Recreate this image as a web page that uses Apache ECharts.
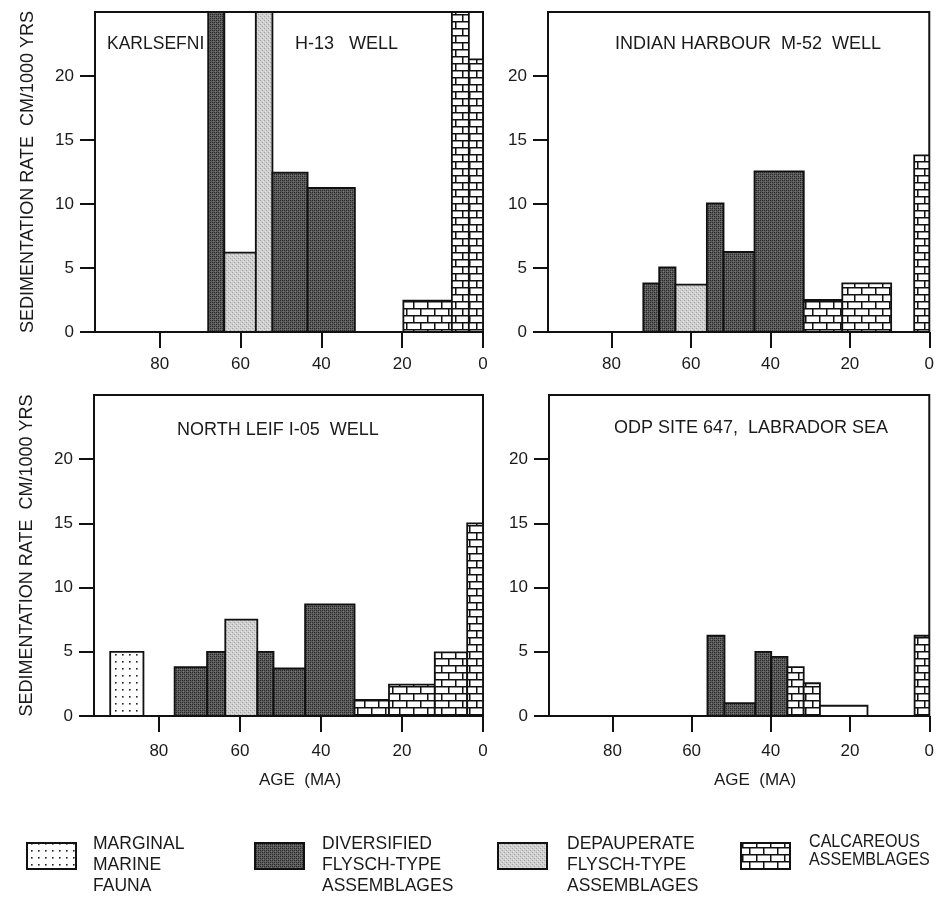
<!DOCTYPE html>
<html>
<head>
<meta charset="utf-8">
<script src="https://cdn.jsdelivr.net/npm/echarts@6/dist/echarts.min.js"></script>
<style>
html,body{margin:0;padding:0;background:#fff;}
#chart{width:937px;height:899px;}
</style>
</head>
<body>
<div id="chart"></div>
<script>
// ---------- DATA ----------
// each row: [older age (Ma), younger age (Ma), sedimentation rate (cm/1000 yr), assemblage type]
// types: 'marginal', 'diversified', 'depauperate', 'calcareous', 'none'
const ageTicks = [0, 20, 40, 60, 80];
const rateTicks = [0, 5, 10, 15, 20];

const karlsefniH13 = [
  [68, 64, 30, 'diversified'],
  [64, 56.2, 30, 'none'],
  [64, 56.2, 6.2, 'depauperate'],
  [56.2, 52.1, 30, 'depauperate'],
  [52.1, 43.4, 12.45, 'diversified'],
  [43.4, 31.7, 11.25, 'diversified'],
  [19.7, 7.7, 2.45, 'calcareous'],
  [7.7, 3.5, 30, 'calcareous'],
  [3.5, 0, 21.3, 'calcareous']
];

const indianHarbourM52 = [
  [72, 68, 3.8, 'diversified'],
  [68, 63.9, 5.05, 'diversified'],
  [63.9, 56, 3.7, 'depauperate'],
  [56, 51.8, 10.05, 'diversified'],
  [51.8, 44, 6.25, 'diversified'],
  [44, 31.6, 12.55, 'diversified'],
  [31.6, 21.9, 2.5, 'calcareous'],
  [21.9, 9.6, 3.8, 'calcareous'],
  [3.8, 0, 13.8, 'calcareous']
];

const northLeifI05 = [
  [92, 83.8, 5.0, 'marginal'],
  [76.1, 68.1, 3.8, 'diversified'],
  [68.1, 63.6, 5.0, 'diversified'],
  [63.6, 55.7, 7.5, 'depauperate'],
  [55.7, 51.7, 5.0, 'diversified'],
  [51.7, 43.9, 3.7, 'diversified'],
  [43.9, 31.7, 8.7, 'diversified'],
  [31.7, 23.2, 1.25, 'calcareous'],
  [23.2, 11.9, 2.45, 'calcareous'],
  [11.9, 3.9, 4.95, 'calcareous'],
  [3.9, 0, 15.0, 'calcareous']
];

const odpSite647 = [
  [56, 51.7, 6.25, 'diversified'],
  [51.7, 43.9, 1.0, 'diversified'],
  [43.9, 39.9, 5.0, 'diversified'],
  [39.9, 35.8, 4.6, 'diversified'],
  [35.8, 31.7, 3.8, 'calcareous'],
  [31.7, 27.6, 2.55, 'calcareous'],
  [27.6, 15.6, 0.8, 'none'],
  [3.7, 0, 6.25, 'calcareous']
];

const panelTitles = [
  ['KARLSEFNI', 'H-13   WELL'],
  ['INDIAN HARBOUR  M-52  WELL'],
  ['NORTH LEIF I-05  WELL'],
  ['ODP SITE 647,  LABRADOR SEA']
];
const yAxisTitle = 'SEDIMENTATION RATE  CM/1000 YRS';
const xAxisTitle = 'AGE  (MA)';
const legendLabels = [
  ['marginal', 'MARGINAL\nMARINE\nFAUNA'],
  ['diversified', 'DIVERSIFIED\nFLYSCH-TYPE\nASSEMBLAGES'],
  ['depauperate', 'DEPAUPERATE\nFLYSCH-TYPE\nASSEMBLAGES'],
  ['calcareous', 'CALCAREOUS\nASSEMBLAGES']
];

// ---------- PATTERNS ----------
function makeCanvas(w, h, draw) {
  const c = document.createElement('canvas');
  c.width = w; c.height = h;
  draw(c.getContext('2d'));
  return c;
}
const darkCanvas = makeCanvas(4, 4, g => {
  g.fillStyle = '#5a5a5a'; g.fillRect(0, 0, 4, 4);
  g.fillStyle = '#2a2a2a';
  g.fillRect(0, 0, 1, 1); g.fillRect(2, 2, 1, 1); g.fillRect(2, 0, 1, 1); g.fillRect(0, 2, 1, 1);
  g.fillStyle = '#787878';
  g.fillRect(1, 1, 1, 1); g.fillRect(3, 3, 1, 1);
});
const lightCanvas = makeCanvas(4, 4, g => {
  g.fillStyle = '#cfcfcf'; g.fillRect(0, 0, 4, 4);
  g.fillStyle = '#a4a4a4';
  g.fillRect(0, 0, 1, 1); g.fillRect(2, 2, 1, 1);
  g.fillStyle = '#e4e4e4';
  g.fillRect(1, 3, 1, 1); g.fillRect(3, 1, 1, 1);
});
const brickCanvas = makeCanvas(14, 14, g => {
  g.fillStyle = '#fff'; g.fillRect(0, 0, 14, 14);
  g.strokeStyle = '#111'; g.lineWidth = 1.5;
  g.beginPath();
  g.moveTo(0, 0.75); g.lineTo(14, 0.75);
  g.moveTo(0, 7.75); g.lineTo(14, 7.75);
  g.moveTo(0.75, 0); g.lineTo(0.75, 7.75);
  g.moveTo(7.75, 7.75); g.lineTo(7.75, 14);
  g.stroke();
});
const dotCanvas = makeCanvas(7, 7, g => {
  g.fillStyle = '#fff'; g.fillRect(0, 0, 7, 7);
  g.fillStyle = '#222';
  g.fillRect(3, 3, 1.6, 1.6);
});
const fills = {
  marginal: { image: dotCanvas, repeat: 'repeat' },
  diversified: { image: darkCanvas, repeat: 'repeat' },
  depauperate: { image: lightCanvas, repeat: 'repeat' },
  calcareous: { image: brickCanvas, repeat: 'repeat' },
  none: '#ffffff'
};

// ---------- CHART ----------
const FONT = '"Liberation Sans", Arial, Helvetica, sans-serif';
const TXT = '#1a1a1a';
const gridBoxes = [
  { left: 95, top: 12, width: 388, height: 320 },
  { left: 548, top: 12, width: 387, height: 320 },
  { left: 94, top: 395, width: 389, height: 321 },
  { left: 549, top: 395, width: 386, height: 321 }
];
const labelMargins = [24, 24, 27, 27];
const panels = [karlsefniH13, indianHarbourM52, northLeifI05, odpSite647];

function renderItem(params, api) {
  const older = api.value(0), younger = api.value(1), rate = api.value(2);
  const type = panels[params.seriesIndex][params.dataIndex][3];
  const p0 = api.coord([older, 0]);
  const p1 = api.coord([younger, rate]);
  const cs = params.coordSys;
  const rect = echarts.graphic.clipRectByRect(
    { x: Math.min(p0[0], p1[0]), y: Math.min(p0[1], p1[1]), width: Math.abs(p1[0] - p0[0]), height: Math.abs(p0[1] - p1[1]) },
    { x: cs.x, y: cs.y, width: cs.width, height: cs.height }
  );
  if (!rect) return;
  return {
    type: 'rect',
    shape: rect,
    style: { fill: fills[type], stroke: '#111', lineWidth: 1.8 }
  };
}

const grids = gridBoxes.map(b => Object.assign({
  show: true, borderColor: '#111', borderWidth: 2, backgroundColor: 'transparent', containLabel: false
}, b));

const xAxes = gridBoxes.map((b, i) => ({
  type: 'value', gridIndex: i, inverse: true, min: 0, max: 96,
  axisLine: { show: true, onZero: false, lineStyle: { color: '#111', width: 2 } },
  axisTick: { show: true, length: 16, inside: false, customValues: ageTicks, lineStyle: { color: '#111', width: 2 } },
  axisLabel: { show: true, customValues: ageTicks, margin: labelMargins[i], fontSize: 17, color: TXT, fontFamily: FONT },
  splitLine: { show: false }
}));

const yAxes = gridBoxes.map((b, i) => ({
  type: 'value', gridIndex: i, min: 0, max: 25, position: 'left',
  name: (i % 2 === 0) ? yAxisTitle : '',
  nameLocation: 'middle', nameRotate: 90, nameGap: 58,
  nameTextStyle: { fontSize: 18, color: TXT, fontFamily: FONT },
  axisLine: { show: true, onZero: false, lineStyle: { color: '#111', width: 2 } },
  axisTick: { show: true, length: 15, inside: false, customValues: rateTicks, lineStyle: { color: '#111', width: 2 } },
  axisLabel: { show: true, customValues: rateTicks, margin: 21, fontSize: 17, color: TXT, fontFamily: FONT },
  splitLine: { show: false }
}));

const series = panels.map((rows, i) => ({
  type: 'custom', xAxisIndex: i, yAxisIndex: i,
  renderItem: renderItem,
  data: rows.map(r => [r[0], r[1], r[2]]),
  clip: true,
  silent: true,
  animation: false
}));

function txt(x, y, text, opts) {
  return {
    type: 'text', x: x, y: y, silent: true,
    style: Object.assign({ text: text, fill: TXT, font: '18px ' + FONT, textVerticalAlign: 'middle' }, opts || {})
  };
}

const graphics = [
  txt(107, 44, panelTitles[0][0], { font: '17.5px ' + FONT }),
  txt(295, 44, panelTitles[0][1]),
  txt(615, 44, panelTitles[1][0]),
  txt(177, 430, panelTitles[2][0]),
  txt(614, 428, panelTitles[3][0]),
  txt(300, 780, xAxisTitle, { textAlign: 'center', font: '17px ' + FONT }),
  txt(755, 780, xAxisTitle, { textAlign: 'center', font: '17px ' + FONT })
];
const legendBoxX = [27, 255, 498, 741];
const legendTextX = [93, 322, 567, 809];
legendLabels.forEach((l, i) => {
  graphics.push({
    type: 'rect', silent: true,
    shape: { x: legendBoxX[i], y: 843, width: 49, height: 26 },
    style: { fill: fills[l[0]], stroke: '#111', lineWidth: 2 }
  });
  const two = l[1].split('\n').length === 2;
  graphics.push({
    type: 'text', x: legendTextX[i], y: two ? 833 : 834, silent: true,
    scaleX: two ? 0.92 : 1,
    style: { text: l[1], fill: TXT, font: '17.5px ' + FONT, lineHeight: two ? 18 : 21, textVerticalAlign: 'top' }
  });
});

const chart = echarts.init(document.getElementById('chart'), null, { renderer: 'canvas' });
chart.setOption({
  animation: false,
  backgroundColor: '#ffffff',
  grid: grids,
  xAxis: xAxes,
  yAxis: yAxes,
  series: series,
  graphic: graphics
});
</script>
</body>
</html>
